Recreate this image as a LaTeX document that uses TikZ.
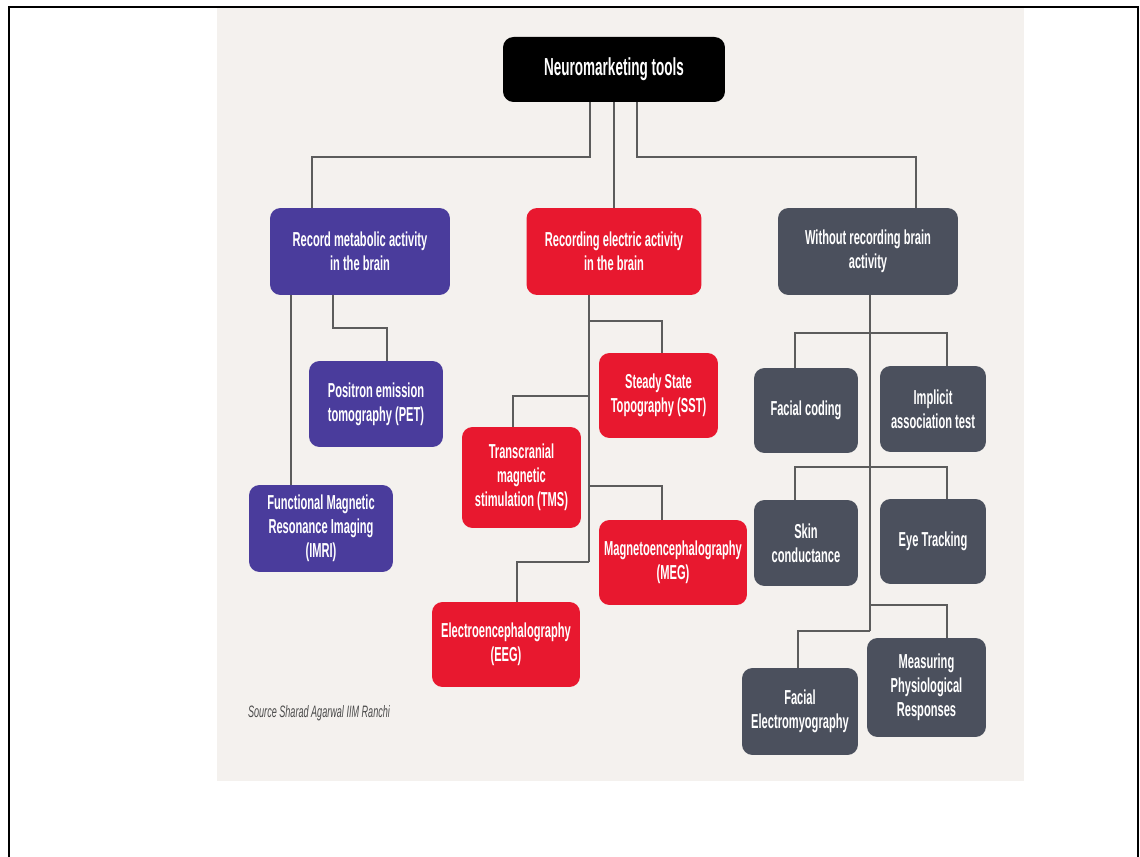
\documentclass[tikz,border=0pt]{standalone}
\usepackage{fontspec}
\setmainfont{Liberation Sans}
\newfontfamily\narrowfont{Liberation Sans}[FakeStretch=0.55]
\usepackage{xcolor}
\usepackage{tikz}
\usetikzlibrary{calc}
\definecolor{C0}{HTML}{4A3C9C}
\definecolor{C1}{HTML}{E8182F}
\definecolor{C2}{HTML}{4B505D}
\definecolor{CB}{HTML}{F4F1EE}
\definecolor{CL}{HTML}{5C5C5C}
\definecolor{CS}{HTML}{4A4A4A}
\tikzstyle{box} = [rounded corners=6pt, text=white, align=center, inner sep=0pt, font=\narrowfont\bfseries\fontsize{11.5}{13.6}\selectfont]
\tikzstyle{link} = [draw=CL, line width=0.9pt]

\begin{document}
\begin{tikzpicture}[x=0.02cm, y=-0.02cm]
	\useasboundingbox (0,0) rectangle (1140,857);
	\fill[CB] (217,7) rectangle (1024,781);
	\draw[line width=1.1pt] (9,857) -- (9,7) -- (1138,7) -- (1138,857);
	
	\node[box, fill=black, minimum width=4.44cm, minimum height=1.30cm, font=\narrowfont\bfseries\fontsize{14}{16}\selectfont] (root) at (614,69.5) {Neuromarketing tools};
	
	\newcommand{\boxcolor}{C0}
	\node[box, fill=\boxcolor, minimum width=3.60cm, minimum height=1.74cm] (met) at (360,251.5) {Record metabolic activity\\in the brain};
	\node[box, fill=\boxcolor, minimum width=2.68cm, minimum height=1.72cm] (pet) at (376,404) {Positron emission\\tomography (PET)};
	\node[box, fill=\boxcolor, minimum width=2.88cm, minimum height=1.74cm] (fmri) at (321,528.5) {Functional Magnetic\\Resonance Imaging\\(IMRI)};
	
	\renewcommand{\boxcolor}{C1}
	\node[box, fill=\boxcolor, minimum width=3.50cm, minimum height=1.74cm] (elec) at (614,251.5) {Recording electric activity\\in the brain};
	\node[box, fill=\boxcolor, minimum width=2.38cm, minimum height=1.70cm] (sst) at (658.5,395.5) {Steady State\\Topography (SST)};
	\node[box, fill=\boxcolor, minimum width=2.38cm, minimum height=2.02cm] (tms) at (521.5,477.5) {Transcranial\\magnetic\\stimulation (TMS)};
	\node[box, fill=\boxcolor, minimum width=2.96cm, minimum height=1.70cm] (meg) at (673,562.5) {Magnetoencephalography\\(MEG)};
	\node[box, fill=\boxcolor, minimum width=2.96cm, minimum height=1.70cm] (eeg) at (506,644.5) {Electroencephalography\\(EEG)};
	
	\renewcommand{\boxcolor}{C2}
	\node[box, fill=\boxcolor, minimum width=3.60cm, minimum height=1.74cm] (without) at (868,251.5) {Without recording brain\\activity};
	\node[box, fill=\boxcolor, minimum width=2.08cm, minimum height=1.70cm] (facial) at (806,410.5) {Facial coding};
	\node[box, fill=\boxcolor, minimum width=2.12cm, minimum height=1.72cm] (iat) at (933,409) {Implicit\\association test};
	\node[box, fill=\boxcolor, minimum width=2.08cm, minimum height=1.72cm] (skin) at (806,543) {Skin\\conductance};
	\node[box, fill=\boxcolor, minimum width=2.12cm, minimum height=1.70cm] (eye) at (933,541.5) {Eye Tracking};
	\node[box, fill=\boxcolor, minimum width=2.38cm, minimum height=1.98cm] (meas) at (926.5,687.5) {Measuring\\Physiological\\Responses};
	\node[box, fill=\boxcolor, minimum width=2.32cm, minimum height=1.74cm] (femg) at (800,711.5) {Facial\\Electromyography};
	
	\node[text=CS, font=\narrowfont\itshape\fontsize{9.4}{10}\selectfont] (src) at (319,713) {Source Sharad Agarwal IIM Ranchi};
	
	\coordinate (r1) at (590,157);
	\coordinate (r3) at (637,157);
	\coordinate (m0) at (312,157);
	\coordinate (w0) at (916,157);
	\draw[link] (root.south -| r1) -- (r1) -- (m0) -- (met.north -| m0);
	\draw[link] (root.south -| elec.north) -- (elec.north);
	\draw[link] (root.south -| r3) -- (r3) -- (w0) -- (without.north -| w0);
	
	\coordinate (m1) at (291,485);
	\coordinate (m2) at (333,328);
	\coordinate (m3) at (387,328);
	\draw[link] (met.south -| m1) -- (m1);
	\draw[link] (met.south -| m2) -- (m2) -- (m3) -- (pet.north -| m3);
	
	\coordinate (e0) at (589,562);
	\draw[link] (elec.south -| e0) -- (e0);
	\foreach \n/\x/\y in {sst/662/321, tms/513/396, meg/662/486, eeg/517/562}
	{
		\coordinate (t\n) at (\x,\y);
		\draw[link] (e0 |- t\n) -- (t\n) -- (\n.north -| t\n);
	}
	
	\coordinate (g0) at (870,631);
	\draw[link] (without.south -| g0) -- (g0);
	\coordinate (ga) at (795,333);
	\coordinate (gb) at (947,333);
	\coordinate (gc) at (795,467);
	\coordinate (gd) at (947,467);
	\draw[link] (facial.north -| ga) -- (ga) -- (gb) -- (iat.north -| gb);
	\draw[link] (skin.north -| gc) -- (gc) -- (gd) -- (eye.north -| gd);
	\coordinate (ge) at (947,605);
	\coordinate (gf) at (798,631);
	\draw[link] (g0 |- ge) -- (ge) -- (meas.north -| ge);
	\draw[link] (g0) -- (gf) -- (femg.north -| gf);
\end{tikzpicture}
\end{document}
